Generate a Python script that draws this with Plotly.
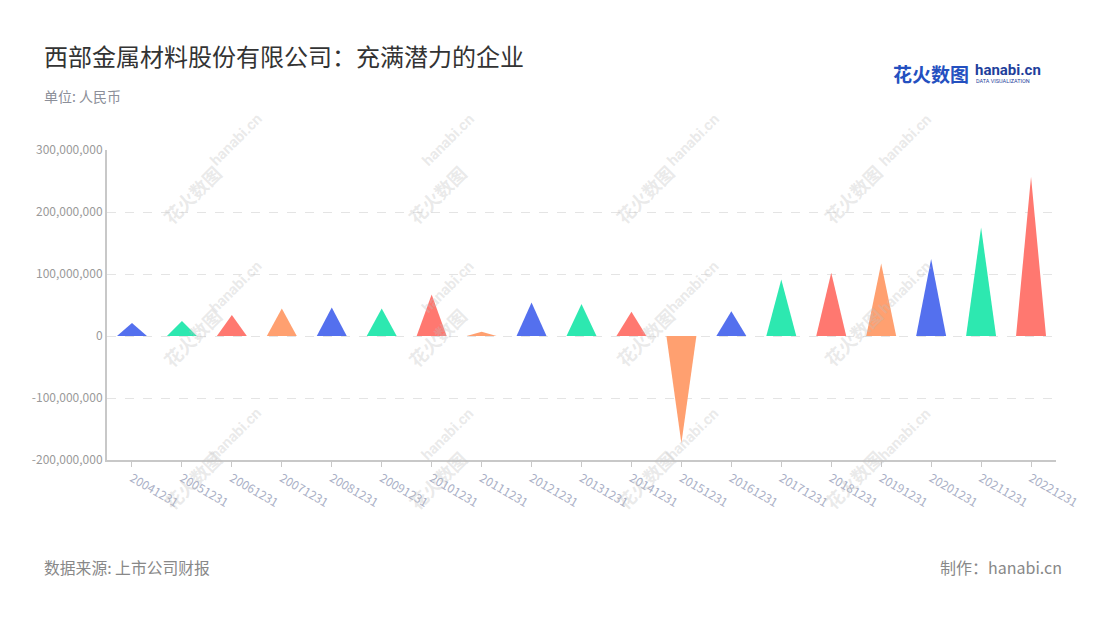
import plotly.graph_objects as go

categories = ["20041231", "20051231", "20061231", "20071231", "20081231", "20091231",
              "20101231", "20111231", "20121231", "20131231", "20141231", "20151231",
              "20161231", "20171231", "20181231", "20191231", "20201231", "20211231",
              "20221231"]
values = [21e6, 24e6, 34e6, 44.5e6, 46e6, 44.5e6, 67e6, 7e6, 54e6, 51.5e6, 39e6,
          -173e6, 40e6, 91e6, 102e6, 117e6, 124e6, 175e6, 257e6]
palette = ["#5470ee", "#2de8b0", "#ff7870", "#ffa070"]
y_ticks = [-200e6, -100e6, 0, 100e6, 200e6, 300e6]

FONT = "Noto Sans CJK SC"
HALF = 0.3

fig = go.Figure()
for i, (cat, v) in enumerate(zip(categories, values)):
    c = palette[i % len(palette)]
    fig.add_trace(go.Scatter(
        x=[i - HALF, i, i + HALF, i - HALF],
        y=[0, v, 0, 0],
        mode="lines", fill="toself", fillcolor=c,
        line=dict(width=0, color=c),
        name=cat, hoveron="fills", text=f"{cat}: {v:,.0f}", hoverinfo="text",
        showlegend=False,
    ))

fig.update_layout(
    width=1100, height=620,
    margin=dict(l=107, r=44, t=150, b=160),
    paper_bgcolor="white", plot_bgcolor="white",
    font=dict(family=FONT),
    xaxis=dict(
        range=[-0.5, len(categories) - 0.5],
        tickmode="array", tickvals=list(range(len(categories))), ticktext=categories,
        tickangle=30, tickfont=dict(size=12, color="#aab0c6"),
        ticks="outside", ticklen=5, tickcolor="#c8c8c8", tickwidth=1,
        showline=True, linecolor="#c8c8c8", linewidth=2,
        showgrid=False, zeroline=False, fixedrange=True,
    ),
    yaxis=dict(
        range=[-200e6, 300e6],
        tickmode="array", tickvals=y_ticks,
        ticktext=[f"{v:,.0f}" for v in y_ticks],
        tickfont=dict(size=12, color="#9a9a9a"),
        showline=True, linecolor="#c8c8c8", linewidth=2,
        showgrid=True, gridcolor="#e4e4e4", griddash="dash", gridwidth=1,
        zeroline=False, ticks="", fixedrange=True,
    ),
)

annotations = [
    dict(text="西部金属材料股份有限公司：充满潜力的企业", x=42, y=55,
         showarrow=False, xanchor="left", yanchor="middle",
         font=dict(size=24, color="#333333", family=FONT)),
    dict(text="单位: 人民币", x=42, y=96, showarrow=False, xanchor="left", yanchor="middle",
         font=dict(size=14, color="#8c8f99", family=FONT)),
    dict(text="数据来源: 上市公司财报", x=42, y=567, showarrow=False, xanchor="left", yanchor="middle",
         font=dict(size=15.8, color="#888888", family=FONT)),
    dict(text="制作：hanabi.cn", x=1064, y=567, showarrow=False, xanchor="right", yanchor="middle",
         font=dict(size=16, color="#888888", family=FONT)),
    # logo
    dict(text="<b>花火数图</b>", x=891, y=73, showarrow=False, xanchor="left", yanchor="middle",
         font=dict(size=19, color="#2450c0", family=FONT)),
    dict(text="<b>hanabi.cn</b>", x=973, y=70, showarrow=False, xanchor="left", yanchor="middle",
         font=dict(size=15, color="#1f3f9c", family="Roboto")),
    dict(text="DATA VISUALIZATION", x=974, y=81, showarrow=False, xanchor="left", yanchor="middle",
         font=dict(size=5.5, color="#1f3f9c", family="Roboto")),
]
pw, ph = 1100 - 107 - 44, 620 - 150 - 160
for a in annotations:
    a["xref"] = "paper"; a["yref"] = "paper"
    a["x"] = (a["x"] - 107) / pw
    a["y"] = 1 - (a["y"] - 150) / ph

# watermark pattern
wm_cols = [155, 400, 645, 890]
wm_rows = [157, 337, 517]
for cx in wm_cols:
    for cy in wm_rows:
        annotations.append(dict(text="<b>花火数图</b>", x=(cx - 107) / pw, y=1 - (cy - 150) / ph,
                                xref="paper", yref="paper", showarrow=False, textangle=-45,
                                font=dict(size=18, color="rgba(190,190,190,0.33)", family=FONT)))
        annotations.append(dict(text="<b>hanabi.cn</b>", x=(cx + 48 - 107) / pw, y=1 - (cy - 50 - 150) / ph,
                                xref="paper", yref="paper", showarrow=False, textangle=-45,
                                font=dict(size=15, color="rgba(190,190,190,0.33)", family="Roboto")))
fig.update_layout(annotations=annotations)

fig.write_html("out.html", config={"displayModeBar": False},
               post_script="document.body.style.margin='0';")
